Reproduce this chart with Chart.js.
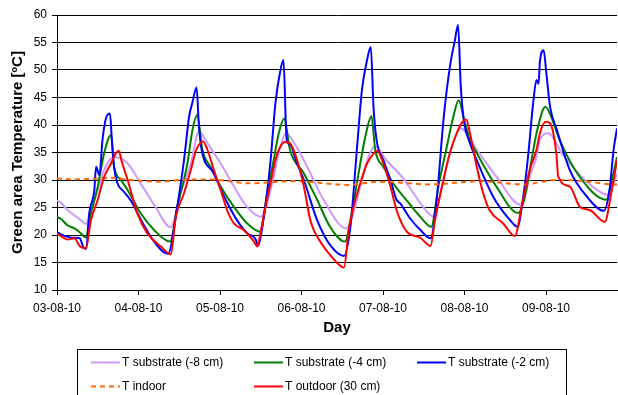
<!DOCTYPE html>
<html>
<head>
<meta charset="utf-8">
<script src="https://cdn.jsdelivr.net/npm/chart.js@4"></script>
<style>
  html, body { margin: 0; padding: 0; background: #fff; }
  #wrap { width: 618px; height: 395px; }
</style>
</head>
<body>
<div id="wrap"><canvas id="myChart" width="618" height="395"></canvas></div>
<script>
// hours counted from 03-08-10 00:00
const dayLabels = ['03-08-10', '04-08-10', '05-08-10', '06-08-10', '07-08-10', '08-08-10', '09-08-10'];

const hoursS8 = [0, 1.2, 3, 5.1, 7, 8.6, 9.5, 12, 13.9, 15.9, 17, 20.8, 24.7, 28.6, 33.5,
  36.4, 39.4, 41.8, 44.3, 48.2, 52.1, 56, 60,
  61.9, 63.8, 65.8, 67.4, 68.6, 72.7, 78.5, 85.2,
  87.8, 89.8, 91.7, 93.6, 97.1, 101, 104, 107, 111,
  113.3, 115.7, 117.7, 118.8, 123.6, 129.4, 136.6,
  139.2, 141.2, 142.2, 144.7, 149, 157.7, 162.2, 164.9];
const tempS8 = [26.3, 25.8, 24.6, 23.6, 22.7, 22.0, 23.3, 28.2, 31.8, 33.9, 34.2, 33.0, 29.3, 25.5, 21.4,
  27.6, 33.0, 38.8, 36.7, 33.0, 28.8, 25.1, 23.3,
  25.8, 30.6, 36.1, 38.5, 37.9, 33.6, 26.4, 21.2,
  25.1, 30.0, 34.2, 36.1, 33.5, 31.0, 28.5, 25.8, 23.3,
  28.8, 34.9, 38.5, 39.4, 35.5, 30.6, 25.5,
  30.6, 34.2, 37.3, 38.5, 34.5, 28.8, 27.3, 31.2];

const hoursS4 = [0, 1.2, 3, 5.1, 6.5, 8, 8.6, 9.5, 12, 13.9, 15.9, 16.8, 18.8, 20.8, 24.7, 28.6, 33.3,
  35.4, 38.4, 39.9, 41.3, 42.8, 45.2, 48.2, 52.1, 56, 59.8,
  61.9, 63.8, 65.3, 66.9, 68.6, 72.7, 76.6, 80.4, 84.8,
  86.8, 88.8, 90.8, 92.6, 93.7, 96.1, 99, 104, 107, 110.2,
  112.3, 114.8, 116.7, 118.3, 119.9, 121.6, 123.6, 129.4, 135.8,
  137.8, 139.7, 141.5, 143.8, 145.2, 148, 153.9, 161.8, 163.2, 164.9];
const tempS4 = [23.3, 22.9, 21.8, 21.2, 20.6, 19.7, 19.5, 22.7, 28.8, 34.9, 38.2, 32.4, 30.0, 28.2, 23.9, 20.9, 18.8,
  25.1, 33.0, 39.1, 41.8, 35.5, 32.4, 28.8, 25.1, 22.1, 20.6,
  27.6, 33.6, 38.5, 41.2, 35.5, 31.2, 26.4, 21.5, 18.8,
  24.0, 31.2, 37.9, 41.6, 35.5, 32.4, 29.4, 25.5, 23.3, 21.5,
  28.8, 36.1, 41.5, 44.5, 40.9, 37.3, 34.9, 28.8, 24.0,
  27.0, 33.6, 39.3, 43.3, 42.0, 37.3, 30.6, 26.4, 29.4, 34.2];

const hoursS2 = [0, 2.4, 4.8, 6.7, 7.9, 8.6, 9.5, 11, 11.5, 12.5, 13.4, 14.4, 15.6, 16.1, 16.8, 17.8, 19.5, 21.8, 24.7, 28.6, 32.7,
  35.4, 37.4, 38.9, 39.8, 41.1, 41.8, 42.6, 46.1, 49.2, 53, 56, 58.6, 59.1,
  60.9, 62.9, 64.3, 65.8, 66.7, 67.4, 67.7, 68.6, 70.7, 72.7, 76.6, 80.4, 84.5,
  86.4, 88.3, 89.8, 91.3, 92.4, 93.2, 94.1, 96.1, 98.2, 100, 101, 104, 107, 110,
  111.8, 113.8, 115.7, 117.2, 118.1, 118.9, 119.8, 121.6, 123.6, 128.4, 133.4, 135.6,
  137.3, 138.7, 140.2, 141.2, 141.8, 142.2, 143.3, 144.1, 145.2, 147.2, 151, 156, 161, 162.7, 163.9, 164.9];
const tempS2 = [20.5, 19.8, 19.5, 19.4, 17.6, 17.5, 24.0, 28.2, 32.4, 30.9, 37.3, 41.2, 42.1, 37.9, 32.4, 29.4, 28.0, 26.2, 22.8, 18.8, 16.6,
  25.1, 33.6, 41.5, 43.9, 46.8, 39.7, 35.5, 31.3, 27.0, 22.7, 20.3, 19.1, 18.0,
  23.3, 33.6, 43.9, 50.0, 51.8, 40.0, 37.0, 36.5, 33.0, 30.0, 22.7, 18.2, 16.2,
  21.5, 35.5, 46.4, 51.8, 54.2, 43.3, 37.3, 33.6, 30.0, 26.4, 25.8, 23.0, 20.9, 19.4,
  26.4, 40.9, 50.6, 55.5, 58.2, 47.0, 40.9, 36.7, 33.6, 27.0, 22.7, 21.5,
  27.0, 34.2, 43.9, 48.2, 47.5, 51.5, 53.6, 49.4, 43.3, 39.1, 31.8, 27.0, 24.4, 28.2, 35.5, 39.4];

const hoursIn = [0, 5, 10, 15.9, 21.6, 30.5, 36, 45.1, 56.9, 69.6, 82.6, 85.4, 95.3, 110, 124.6, 137.3, 147, 155, 163.7, 164.9];
const tempIn = [30.3, 30.1, 30.2, 30.4, 30.0, 29.7, 30.0, 30.1, 29.4, 29.8, 29.2, 29.1, 29.7, 29.2, 29.8, 29.2, 30.0, 29.8, 29.2, 29.2];

const hoursOut = [0, 1.2, 3, 5.1, 6.8, 8.5, 10, 12, 13.9, 15.9, 17, 18.2, 19, 20.8, 23.7, 26.6, 30.6, 33.5,
  35, 37.4, 39.4, 41, 42.3, 43, 44.3, 46.2, 48.2, 50.1, 52.1, 55, 58, 59,
  59.9, 61.4, 62.9, 64.3, 65.8, 67.2, 68.6, 70.7, 72.7, 74.6, 78.5, 80.4, 84.5,
  85.9, 87.3, 89.3, 91.3, 93.2, 94.2, 96.1, 98.2, 100, 103, 107, 110,
  111.3, 113.8, 115.7, 117.7, 119.1, 120.5, 121.6, 123.6, 125.5, 127.4, 131.4, 134.8,
  136.8, 139.2, 141.2, 142.2, 143.9, 145.2, 147, 147.6, 151, 154, 157, 161.3, 163.2, 164.9];
const tempOut = [20.2, 19.8, 19.2, 19.4, 17.9, 17.6, 22.7, 26.4, 30.6, 33.0, 34.5, 35.3, 33.5, 30.0, 23.9, 20.3, 17.9, 16.5,
  23.3, 27.6, 31.8, 35.5, 36.8, 37.0, 35.5, 31.8, 28.2, 24.5, 22.1, 20.9, 18.8, 17.9,
  20.3, 25.1, 29.4, 33.6, 36.1, 36.9, 36.7, 33.6, 28.8, 22.7, 17.9, 16.4, 14.1,
  20.9, 25.1, 29.4, 33.0, 34.8, 35.3, 33.0, 28.8, 24.5, 20.6, 19.5, 18.0,
  22.7, 30.0, 34.9, 38.5, 40.3, 41.0, 38.5, 32.4, 27.6, 24.5, 22.1, 19.8,
  25.1, 31.8, 35.5, 38.5, 40.6, 40.3, 35.0, 30.6, 28.8, 25.1, 24.5, 22.4, 27.6, 33.6];

function pts(xs, ys) {
  return xs.map((x, i) => ({ x: x, y: ys[i] }));
}

const font = '"Liberation Sans", Arial, sans-serif';

function series(label, xs, ys, color, order, dash) {
  return {
    label: label,
    data: pts(xs, ys),
    borderColor: color,
    backgroundColor: color,
    borderWidth: 2,
    borderDash: dash || [],
    pointRadius: 0,
    cubicInterpolationMode: 'monotone',
    fill: false,
    order: order
  };
}

// legend drawn in a box under the axis, 3 columns
const boxLegend = {
  id: 'boxLegend',
  afterDraw(chart) {
    const ctx = chart.ctx;
    ctx.save();
    ctx.strokeStyle = '#000';
    ctx.lineWidth = 1;
    ctx.strokeRect(77.5, 349.5, 489, 60);
    ctx.font = '12px ' + font;
    ctx.textBaseline = 'middle';
    ctx.fillStyle = '#000';
    chart.data.datasets.forEach((ds, i) => {
      const col = i % 3, row = Math.floor(i / 3);
      const x = 91 + col * 163, y = 362.5 + row * 24;
      ctx.beginPath();
      ctx.strokeStyle = ds.borderColor;
      ctx.lineWidth = 2;
      ctx.setLineDash(ds.borderDash);
      ctx.moveTo(x, y);
      ctx.lineTo(x + 29, y);
      ctx.stroke();
      ctx.setLineDash([]);
      ctx.fillText(ds.label, x + 31, y + 0.5);
    });
    ctx.restore();
  }
};

const ctx = document.getElementById('myChart').getContext('2d');

const chart = new Chart(ctx, {
  type: 'line',
  data: {
    datasets: [
      series('T substrate (-8 cm)', hoursS8, tempS8, '#CC99FF', 4),
      series('T substrate (-4 cm)', hoursS4, tempS4, '#008000', 3),
      series('T substrate (-2 cm)', hoursS2, tempS2, '#0000FF', 2),
      series('T indoor', hoursIn, tempIn, '#FF6600', 1, [5, 4]),
      series('T outdoor (30 cm)', hoursOut, tempOut, '#FF0000', 0)
    ]
  },
  options: {
    responsive: false,
    animation: false,
    devicePixelRatio: 1,
    layout: { padding: { top: 15, right: 1, left: 0, bottom: 0 } },
    plugins: {
      legend: { display: false },
      tooltip: { enabled: false }
    },
    scales: {
      x: {
        type: 'linear',
        min: 0,
        max: 164.9,
        border: { color: '#000', width: 1 },
        grid: { drawOnChartArea: false, drawTicks: true, tickLength: 5, color: '#000' },
        ticks: {
          stepSize: 24,
          includeBounds: false,
          autoSkip: false,
          maxRotation: 0,
          padding: 6,
          color: '#000',
          font: { family: font, size: 12 },
          callback: v => dayLabels[v / 24] || ''
        },
        title: {
          display: true,
          text: 'Day',
          color: '#000',
          font: { family: font, size: 15, weight: 'bold' },
          padding: { top: 0, bottom: 58 }
        },
        afterFit: s => { s.height = 105; }
      },
      y: {
        min: 10,
        max: 60,
        border: { color: '#000', width: 1 },
        grid: { color: '#000', tickLength: 5 },
        ticks: {
          stepSize: 5,
          padding: 5,
          color: '#000',
          font: { family: font, size: 12 }
        },
        title: {
          display: true,
          text: 'Green area Temperature [ºC]',
          color: '#000',
          font: { family: font, size: 15, weight: 'bold' },
          padding: { top: 9, bottom: 0 }
        },
        afterFit: s => { s.width = 57; }
      }
    }
  },
  plugins: [boxLegend]
});
</script>
</body>
</html>
